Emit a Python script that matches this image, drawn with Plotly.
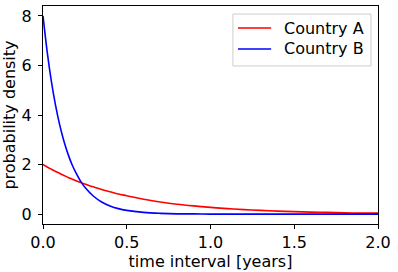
import plotly.graph_objects as go

t = [0.0, 0.025, 0.05, 0.075, 0.1, 0.125, 0.15, 0.175, 0.2, 0.225, 0.25, 0.3, 0.35, 0.4, 0.45, 0.5,
     0.6, 0.7, 0.8, 0.9, 1.0, 1.1, 1.2, 1.3, 1.4, 1.5, 1.6, 1.7, 1.8, 1.9, 2.0]
country_a = [2.0, 1.90, 1.81, 1.72, 1.64, 1.56, 1.48, 1.41, 1.34, 1.28, 1.21, 1.10, 0.99, 0.90, 0.81, 0.74,
             0.60, 0.49, 0.40, 0.33, 0.27, 0.22, 0.18, 0.15, 0.12, 0.10, 0.08, 0.07, 0.05, 0.04, 0.04]
country_b = [8.0, 6.55, 5.36, 4.39, 3.59, 2.94, 2.41, 1.97, 1.62, 1.32, 1.08, 0.73, 0.49, 0.33, 0.22, 0.15,
             0.07, 0.03, 0.01, 0.01, 0.0, 0.0, 0.0, 0.0, 0.0, 0.0, 0.0, 0.0, 0.0, 0.0, 0.0]
series_names = ["Country A", "Country B"]
series_colors = ["#ff0000", "#0000ff"]
x_ticks = [0.0, 0.5, 1.0, 1.5, 2.0]
x_tick_text = ["0.0", "0.5", "1.0", "1.5", "2.0"]
y_ticks = [0, 2, 4, 6, 8]

fig = go.Figure()
for name, ys, col in zip(series_names, [country_a, country_b], series_colors):
    fig.add_trace(go.Scatter(x=t, y=ys, mode="lines", name=name, showlegend=False,
                             line=dict(color=col, width=1.6, shape="spline")))

axis_common = dict(showline=True, linecolor="black", linewidth=1, mirror=True,
                   ticks="outside", ticklen=4, tickcolor="black", showgrid=False, zeroline=False,
                   tickfont=dict(size=16, color="black"))
fig.update_xaxes(range=[0, 2], tickvals=x_ticks, ticktext=x_tick_text,
                 title=dict(text="time interval [years]", font=dict(size=16, color="black"), standoff=3),
                 **axis_common)
fig.update_yaxes(range=[-0.4, 8.4], tickvals=y_ticks, ticklabelstandoff=3,
                 title=dict(text="probability density", font=dict(size=16, color="black"), standoff=2),
                 **axis_common)

# manual legend (matplotlib-style box)
fig.add_shape(type="rect", xref="paper", yref="paper", x0=0.567, x1=0.979, y0=0.725, y1=0.963,
              line=dict(color="#cccccc", width=1), fillcolor="rgba(255,255,255,0.8)", layer="above")
row_y = [0.899, 0.803]
for name, col, yy in zip(series_names, series_colors, row_y):
    fig.add_shape(type="line", xref="paper", yref="paper", x0=0.582, x1=0.681, y0=yy, y1=yy,
                  line=dict(color=col, width=1.6), layer="above")
    fig.add_annotation(xref="paper", yref="paper", x=0.713, y=yy, xanchor="left", yanchor="middle",
                       text=name, showarrow=False, font=dict(size=16, color="black"))

fig.update_layout(
    width=398, height=272,
    margin=dict(l=43, r=20, t=6, b=48),
    paper_bgcolor="white", plot_bgcolor="white",
    font=dict(family="DejaVu Sans", size=16, color="black"),
    showlegend=False,
)
fig.write_html("out.html")
